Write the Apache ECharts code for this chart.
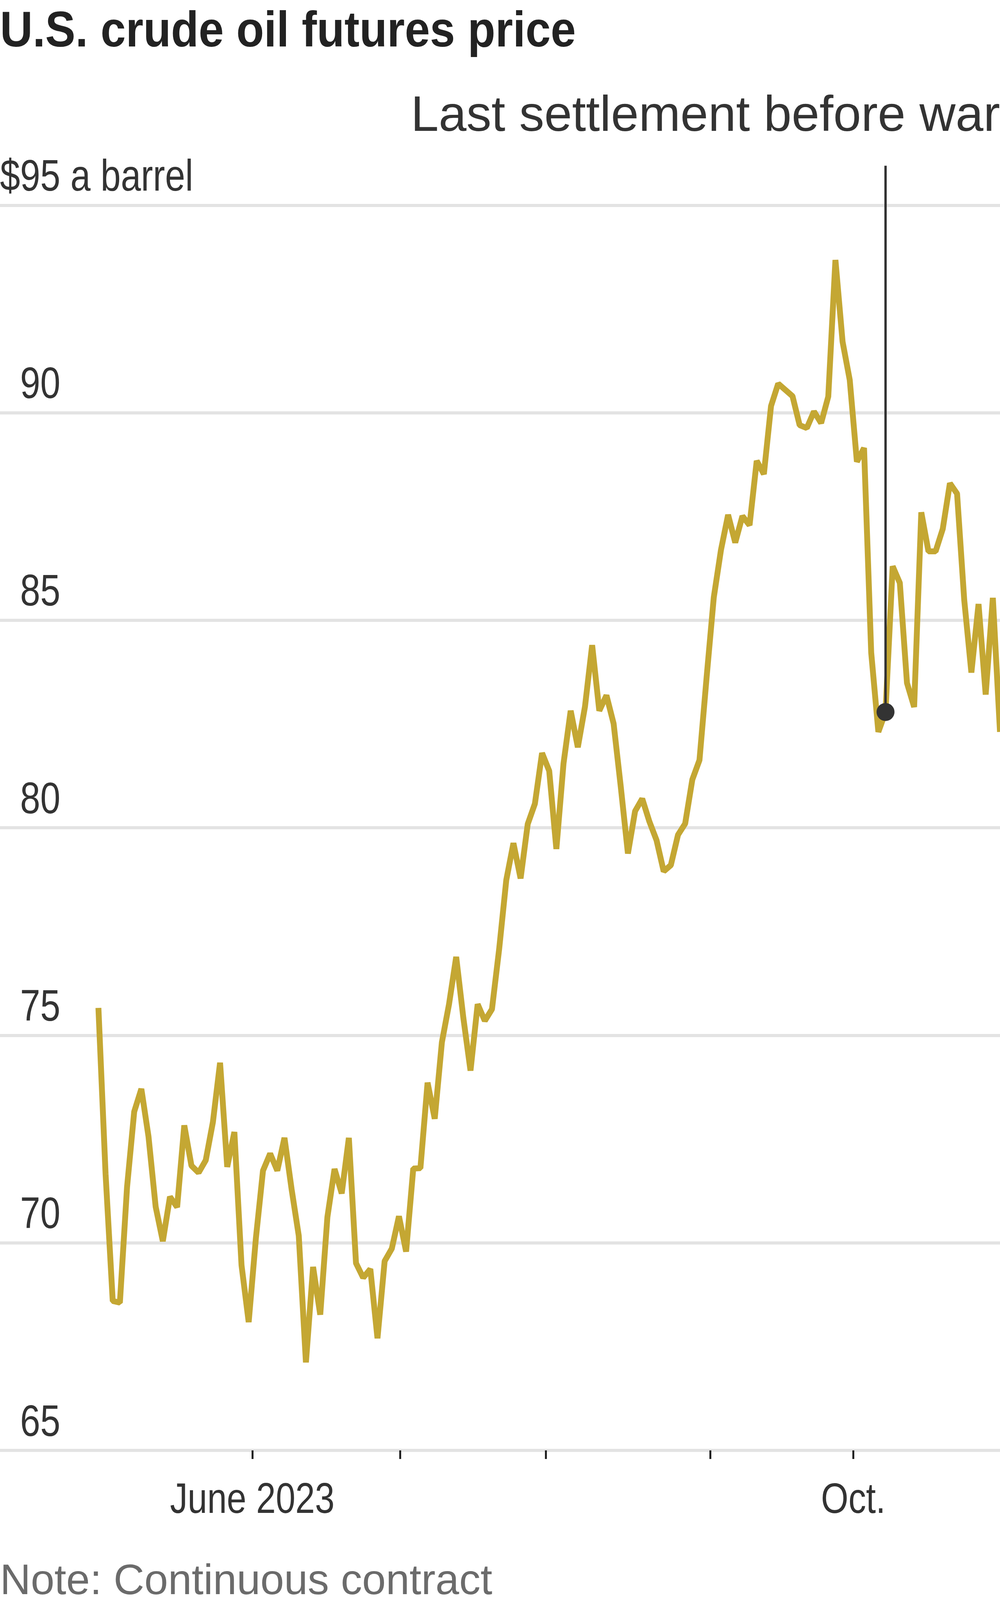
<!DOCTYPE html>
<html>
<head>
<meta charset="utf-8">
<script src="https://cdn.jsdelivr.net/npm/echarts@6/dist/echarts.min.js"></script>
<style>
  html, body { margin: 0; padding: 0; background: #ffffff; }
  #chart { width: 2560px; height: 4266px; }
</style>
</head>
<body>
<div id="chart"></div>
<script>
// ---- Data (trading days, continuous-contract settlement, $/barrel) ----
const dates = [
  '2023-05-01','2023-05-02','2023-05-03','2023-05-04','2023-05-05','2023-05-08','2023-05-09','2023-05-10','2023-05-11','2023-05-12',
  '2023-05-15','2023-05-16','2023-05-17','2023-05-18','2023-05-19','2023-05-22','2023-05-23','2023-05-24','2023-05-25','2023-05-26',
  '2023-05-30','2023-05-31',
  '2023-06-01','2023-06-02','2023-06-05','2023-06-06','2023-06-07','2023-06-08','2023-06-09','2023-06-12','2023-06-13','2023-06-14',
  '2023-06-15','2023-06-16','2023-06-20','2023-06-21','2023-06-22','2023-06-23','2023-06-26','2023-06-27','2023-06-28','2023-06-29',
  '2023-06-30',
  '2023-07-03','2023-07-05','2023-07-06','2023-07-07','2023-07-10','2023-07-11','2023-07-12','2023-07-13','2023-07-14','2023-07-17',
  '2023-07-18','2023-07-19','2023-07-20','2023-07-21','2023-07-24','2023-07-25','2023-07-26','2023-07-27','2023-07-28','2023-07-31',
  '2023-08-01','2023-08-02','2023-08-03','2023-08-04','2023-08-07','2023-08-08','2023-08-09','2023-08-10','2023-08-11','2023-08-14',
  '2023-08-15','2023-08-16','2023-08-17','2023-08-18','2023-08-21','2023-08-22','2023-08-23','2023-08-24','2023-08-25','2023-08-28',
  '2023-08-29','2023-08-30','2023-08-31',
  '2023-09-01','2023-09-05','2023-09-06','2023-09-07','2023-09-08','2023-09-11','2023-09-12','2023-09-13','2023-09-14','2023-09-15',
  '2023-09-18','2023-09-19','2023-09-20','2023-09-21','2023-09-22','2023-09-25','2023-09-26','2023-09-27','2023-09-28','2023-09-29',
  '2023-10-02','2023-10-03','2023-10-04','2023-10-05','2023-10-06','2023-10-09','2023-10-10','2023-10-11','2023-10-12','2023-10-13',
  '2023-10-16','2023-10-17','2023-10-18','2023-10-19','2023-10-20','2023-10-23','2023-10-24','2023-10-25','2023-10-26','2023-10-27',
  '2023-10-30'
];

const prices = [
  75.66, 71.66, 68.60, 68.56, 71.34, 73.16, 73.71, 72.56, 70.87, 70.04,
  71.11, 70.86, 72.83, 71.86, 71.69, 71.99, 72.91, 74.34, 71.83, 72.67,
  69.46, 68.09,
  70.10, 71.74, 72.15, 71.74, 72.53, 71.29, 70.17, 67.12, 69.42, 68.27,
  70.62, 71.78, 71.19, 72.53, 69.51, 69.16, 69.37, 67.70, 69.56, 69.86,
  70.64,
  69.79, 71.79, 71.80, 73.86, 72.99, 74.83, 75.75, 76.89, 75.42, 74.15,
  75.75, 75.35, 75.63, 77.07, 78.74, 79.63, 78.78, 80.09, 80.58, 81.80,
  81.37, 79.49, 81.55, 82.82, 81.94, 82.92, 84.40, 82.82, 83.19, 82.51,
  80.99, 79.38, 80.40, 80.70, 80.15, 79.70, 78.95, 79.10, 79.83, 80.10,
  81.16, 81.63, 83.63,
  85.55, 86.69, 87.54, 86.87, 87.51, 87.29, 88.84, 88.52, 90.16, 90.70,
  90.55, 90.40, 89.70, 89.63, 90.03, 89.75, 90.39, 93.68, 91.71, 90.79,
  88.82, 89.15, 84.22, 82.31, 82.79, 86.30, 85.90, 83.49, 82.91, 87.60,
  86.66, 86.66, 87.20, 88.30, 88.05, 85.49, 83.74, 85.39, 83.21, 85.54,
  82.31
];

const yTicks = [65, 70, 75, 80, 85, 90, 95];
const yTopUnit = ' a barrel';
const monthTickDates = ['2023-06-01', '2023-07-01', '2023-08-01', '2023-09-01', '2023-10-01'];
const monthTickLabels = ['June 2023', '', '', '', 'Oct.'];

const annotationDate = '2023-10-06';
const annotationText = 'Last settlement before war';
const titleText = 'U.S. crude oil futures price';
const noteText = 'Note: Continuous contract';
const sourceText = 'Source: FactSet';

// ---- helpers ----
const dayStamps = dates.map(d => Date.parse(d + 'T12:00:00Z'));
function dateToPos(ds) {
  const t = Date.parse(ds + 'T00:00:00Z');
  for (let i = 0; i < dayStamps.length - 1; i++) {
    if (t >= dayStamps[i] && t <= dayStamps[i + 1]) {
      return i + (t - dayStamps[i]) / (dayStamps[i + 1] - dayStamps[i]);
    }
  }
  return 0;
}
const monthTickPos = monthTickDates.map(dateToPos);

const annIdx = dates.indexOf(annotationDate);
const annVal = prices[annIdx];
const seriesData = prices.map((v, i) => [i, v]);

const FONT = "'Liberation Sans', Arial, sans-serif";
const NARROW_SCALE = 0.82;   // narrow (condensed) look for axis text

const chart = echarts.init(document.getElementById('chart'), null, { renderer: 'canvas', devicePixelRatio: 1 });

const option = {
  animation: false,
  backgroundColor: '#ffffff',
  title: [
    {
      text: annotationText, right: 0, top: 236, padding: 0,
      textStyle: { fontFamily: FONT, fontWeight: 'normal', fontSize: 128, lineHeight: 128, color: '#333333' }
    },
    {
      text: noteText, left: 0, top: 3996, padding: 0,
      textStyle: { fontFamily: FONT, fontWeight: 'normal', fontSize: 109, lineHeight: 109, color: '#6b6b6b' }
    },
    {
      text: sourceText, left: 0, top: 4149, padding: 0,
      textStyle: { fontFamily: FONT, fontWeight: 'normal', fontSize: 109, lineHeight: 109, color: '#6b6b6b' }
    }
  ],
  grid: { left: 0, right: 0, top: 419, bottom: 553, containLabel: false },
  xAxis: {
    type: 'value',
    min: -13.755,
    max: dates.length - 1,
    axisLine: { show: false },
    splitLine: { show: false },
    axisTick: {
      show: true, customValues: monthTickPos, length: 22, inside: false,
      lineStyle: { color: '#222222', width: 5 }
    },
    axisLabel: { show: false }
  },
  yAxis: {
    type: 'value',
    min: yTicks[0],
    max: 96,
    interval: 5,
    axisLine: { show: false },
    axisTick: { show: false },
    splitLine: { show: true, showMaxLine: false, lineStyle: { color: '#e3e3e3', width: 8 } },
    axisLabel: { show: false }
  },
  series: [
    {
      type: 'line',
      data: seriesData,
      showSymbol: false,
      symbol: 'none',
      lineStyle: { color: '#C4A733', width: 15, join: 'bevel' },
      z: 3,
      markLine: {
        silent: true,
        symbol: ['none', 'none'],
        label: { show: false },
        lineStyle: { color: '#333333', width: 6, type: 'solid' },
        data: [[{ coord: [annIdx, annVal] }, { coord: [annIdx, 95.95] }]]
      },
      markPoint: {
        silent: true,
        symbol: 'circle',
        symbolSize: 46,
        label: { show: false },
        itemStyle: { color: '#333333' },
        data: [{ coord: [annIdx, annVal] }]
      }
    }
  ]
};

chart.setOption(option);

// ---- condensed axis text & title, positioned through the chart's own scales ----
const graphics = [];
graphics.push({
  type: 'text', x: 0, y: 20, scaleX: 0.905, silent: true,
  style: {
    text: titleText, fill: '#222222',
    fontFamily: FONT, fontWeight: 'bold', fontSize: 128, lineHeight: 128,
    align: 'left', textAlign: 'left', verticalAlign: 'top', textVerticalAlign: 'top'
  }
});

yTicks.forEach(function (v, i) {
  const py = chart.convertToPixel({ yAxisIndex: 0 }, v);
  const isTop = i === yTicks.length - 1;
  graphics.push({
    type: 'text', x: 0, y: py - 12, scaleX: NARROW_SCALE, silent: true,
    style: {
      text: isTop ? '{a|$' + v + yTopUnit + '}' : '{h|$}{a|' + v + '}',
      align: 'left', textAlign: 'left', verticalAlign: 'bottom', textVerticalAlign: 'bottom',
      rich: {
        a: { fontFamily: FONT, fontSize: 113, lineHeight: 113, fill: '#333333', color: '#333333' },
        h: { fontFamily: FONT, fontSize: 113, lineHeight: 113, fill: 'rgba(0,0,0,0)', color: 'rgba(0,0,0,0)' }
      }
    }
  });
});

const axisBottom = chart.convertToPixel({ yAxisIndex: 0 }, yTicks[0]);
monthTickPos.forEach(function (p, i) {
  if (!monthTickLabels[i]) return;
  const px = chart.convertToPixel({ xAxisIndex: 0 }, p);
  graphics.push({
    type: 'text', x: px, y: axisBottom + 75, scaleX: NARROW_SCALE, silent: true,
    style: {
      text: monthTickLabels[i], fill: '#333333',
      fontFamily: FONT, fontSize: 110, lineHeight: 110,
      align: 'center', textAlign: 'center', verticalAlign: 'top', textVerticalAlign: 'top'
    }
  });
});

chart.setOption({ graphic: { elements: graphics } });
</script>
</body>
</html>
